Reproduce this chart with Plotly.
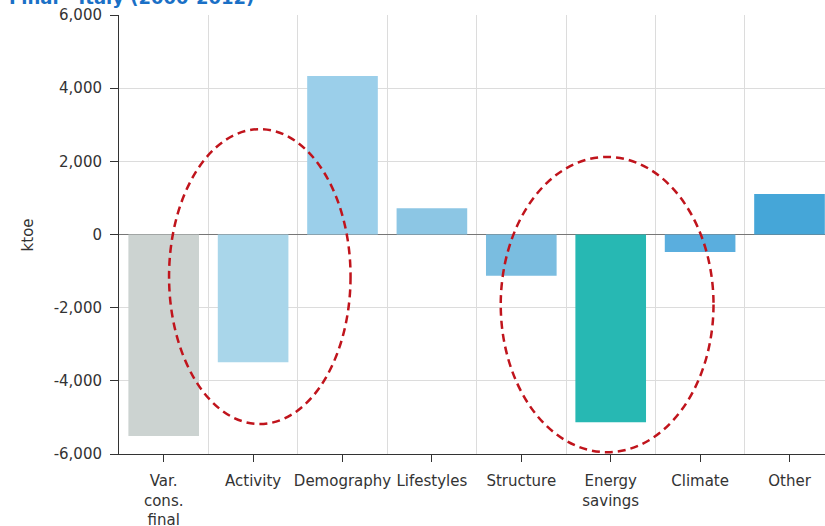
import plotly.graph_objects as go

# Decomposition of final energy consumption variation, Italy 2000-2012 (ktoe)
categories = ["Var.<br>cons.<br>final", "Activity", "Demography", "Lifestyles",
              "Structure", "Energy<br>savings", "Climate", "Other"]
values = [-5510, -3490, 4330, 720, -1130, -5130, -480, 1110]
bar_colors = ["#ccd3d1", "#a9d6ea", "#9bcfea", "#8cc6e4",
              "#7abde0", "#27b8b3", "#5aaede", "#45a6d8"]
y_ticks = [-6000, -4000, -2000, 0, 2000, 4000, 6000]
y_tick_text = ["-6,000", "-4,000", "-2,000", "0", "2,000", "4,000", "6,000"]

# Highlight ellipses (x in category units, y in ktoe)
ellipses = [
    dict(x0=0.06, x1=2.09, y0=-5180, y1=2880),
    dict(x0=3.77, x1=6.15, y0=-5950, y1=2120),
]

font_family = "DejaVu Sans, Verdana, sans-serif"
xpos = list(range(len(categories)))

fig = go.Figure(go.Bar(
    x=xpos, y=values, width=0.79,
    marker=dict(color=bar_colors, line=dict(width=0)),
    hoverinfo="skip",
))

for e in ellipses:
    fig.add_shape(type="circle", xref="x", yref="y",
                  x0=e["x0"], x1=e["x1"], y0=e["y0"], y1=e["y1"],
                  line=dict(color="#c0141c", width=2.5, dash="8px,5px"))

fig.add_annotation(text="Final - Italy (2000-2012)", xref="paper", yref="paper",
                   x=-0.158, y=1.040, xanchor="left", yanchor="middle",
                   showarrow=False,
                   font=dict(family=font_family, size=18, color="#1a70c6", weight="bold"))
fig.add_annotation(text="ktoe", xref="paper", yref="paper",
                   x=-0.129, y=0.5, xanchor="center", yanchor="middle",
                   textangle=-90, showarrow=False,
                   font=dict(family=font_family, size=15, color="#333333"))

fig.update_layout(
    width=825, height=526,
    margin=dict(l=119, r=0, t=15, b=72),
    paper_bgcolor="white", plot_bgcolor="white",
    showlegend=False,
    font=dict(family=font_family, size=15, color="#333333"),
    bargap=0.2,
)
fig.update_xaxes(
    range=[-0.5, 7.397],
    tickmode="array", tickvals=xpos, ticktext=categories,
    showgrid=False, zeroline=False,
    showline=True, linecolor="#333333", linewidth=1,
    ticks="outside", ticklen=7, tickcolor="#333333",
    ticklabelstandoff=6, automargin=False,
    minor=dict(tickmode="array", tickvals=[i + 0.5 for i in xpos[:-1]],
               showgrid=True, gridcolor="#dcdcdc", gridwidth=1, ticks=""),
    fixedrange=True,
)
fig.update_yaxes(
    range=[-6000, 6000],
    tickmode="array", tickvals=y_ticks, ticktext=y_tick_text,
    showgrid=True, gridcolor="#dcdcdc", gridwidth=1,
    zeroline=True, zerolinecolor="#777777", zerolinewidth=1,
    showline=True, linecolor="#333333", linewidth=1,
    ticks="outside", ticklen=8, tickcolor="#333333",
    ticklabelstandoff=5, automargin=False,
    fixedrange=True,
)

fig.write_html("out.html")
